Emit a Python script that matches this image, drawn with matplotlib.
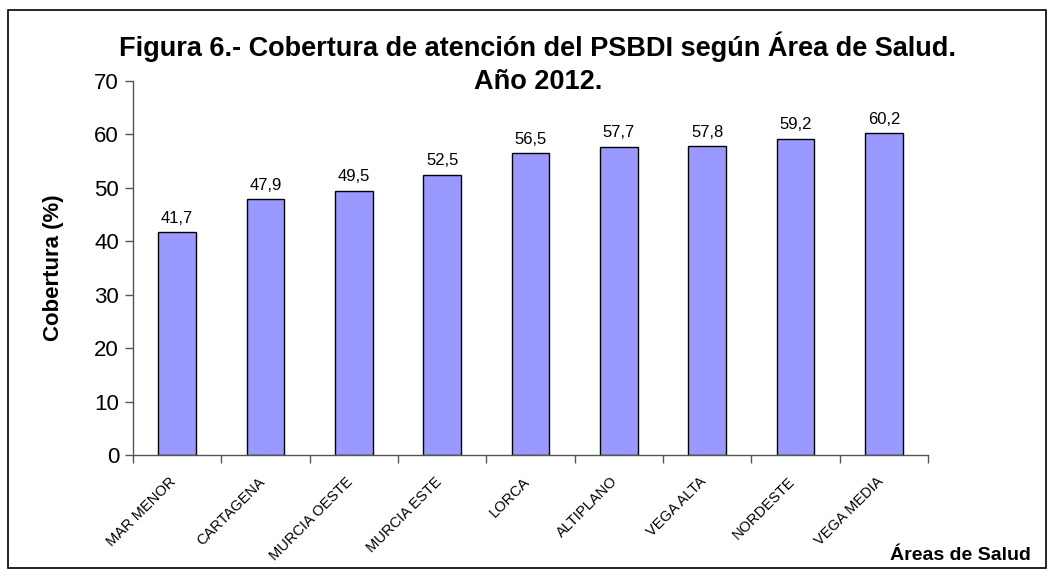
import matplotlib
matplotlib.use('Agg')
import numpy as np
from matplotlib import pyplot as plt
from matplotlib.patches import Rectangle
from matplotlib.transforms import ScaledTranslation

areas = ['MAR MENOR', 'CARTAGENA', 'MURCIA OESTE', 'MURCIA ESTE', 'LORCA',
         'ALTIPLANO', 'VEGA ALTA', 'NORDESTE', 'VEGA MEDIA']
cobertura = [41.7, 47.9, 49.5, 52.5, 56.5, 57.7, 57.8, 59.2, 60.2]
yticks = [0, 10, 20, 30, 40, 50, 60, 70]

plt.rcParams['font.family'] = ['Liberation Sans', 'DejaVu Sans']

fig = plt.figure(figsize=(10.54, 5.76), dpi=100)
ax = fig.add_axes([133 / 1054, 1 - 455 / 576, (928 - 133) / 1054, (455 - 81) / 576])

x = np.arange(len(areas))
ax.bar(x, cobertura, width=0.43, color='#9999FF', edgecolor='black', linewidth=1)

for xi, v in zip(x, cobertura):
    ax.text(xi, v + 1.2, f'{v:.1f}'.replace('.', ','), ha='center', va='bottom', fontsize=12)

ax.set_xlim(-0.5, len(areas) - 0.5)
ax.set_ylim(0, 70)
ax.set_yticks(yticks)
ax.tick_params(axis='y', labelsize=16, length=6, width=1, color='#555555', pad=4)

# category ticks sit between bars, labels centred under bars
ax.set_xticks(np.arange(len(areas) + 1) - 0.5)
ax.set_xticklabels([])
ax.set_xticks(x, minor=True)
ax.set_xticklabels(areas, minor=True, rotation=45, ha='right', va='top',
                   fontsize=10.5, rotation_mode='anchor')
ax.tick_params(axis='x', which='major', length=6, width=1, color='#555555')
ax.tick_params(axis='x', which='minor', length=0, pad=14)
for lbl in ax.get_xticklabels(minor=True):
    lbl.set_transform(lbl.get_transform() + ScaledTranslation(-0.08, 0, fig.dpi_scale_trans))

for s in ['top', 'right']:
    ax.spines[s].set_visible(False)
for s in ['left', 'bottom']:
    ax.spines[s].set_color('#555555')
    ax.spines[s].set_linewidth(1)

ax.set_ylabel('Cobertura (%)', fontsize=16, fontweight='bold', labelpad=22)

fig.text(538 / 1054, 1 - 47 / 576, 'Figura 6.- Cobertura de atención del PSBDI según Área de Salud.',
         ha='center', va='center', fontsize=19.5, fontweight='bold')
fig.text(538 / 1054, 1 - 82 / 576, 'Año 2012.', ha='center', va='center',
         fontsize=19.5, fontweight='bold')
fig.text(1031 / 1054, 1 - 555 / 576, 'Áreas de Salud', ha='right', va='center',
         fontsize=14, fontweight='bold')

fig.patches.append(Rectangle((8 / 1054, 1 - 568 / 576), 1038 / 1054, 558 / 576,
                             transform=fig.transFigure, fill=False,
                             edgecolor='black', linewidth=1.2))

plt.savefig('out.png', dpi=100)
plt.close()
